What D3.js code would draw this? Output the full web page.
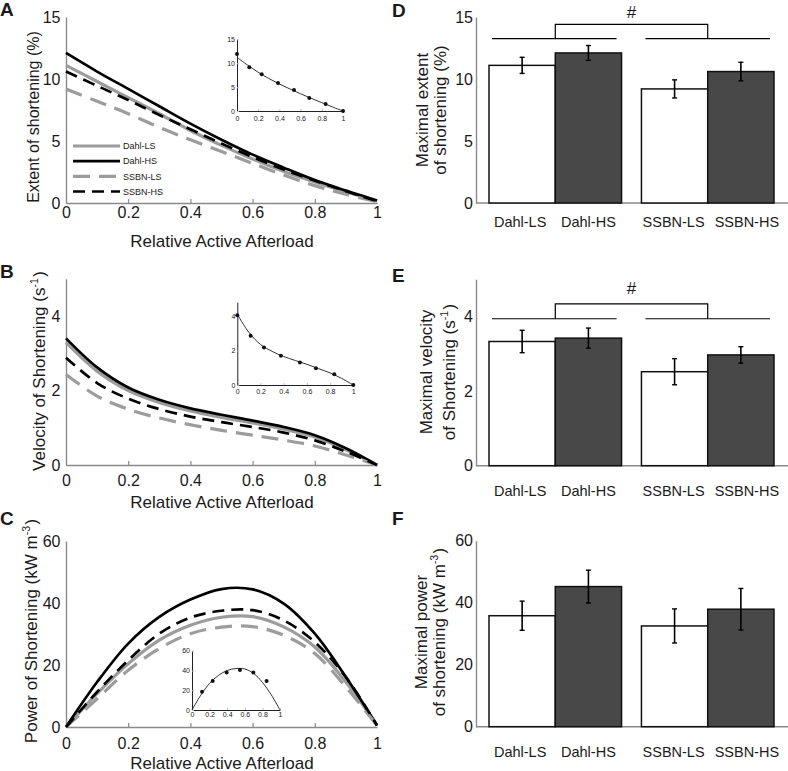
<!DOCTYPE html>
<html><head><meta charset="utf-8">
<script src="https://cdn.jsdelivr.net/npm/d3@7"></script>
<style>body{margin:0;background:#fff} svg{display:block} text{font-family:"Liberation Sans",Arial,sans-serif;fill:#1a1a1a}</style>
</head><body><svg id="c" width="788" height="771"></svg>
<script>
// ---------------- data ----------------
const afterload = [0, 0.1, 0.2, 0.3, 0.4, 0.5, 0.6, 0.7, 0.8, 0.9, 1];
const groups = ["Dahl-LS", "Dahl-HS", "SSBN-LS", "SSBN-HS"];

// Panel A: extent of shortening (%)
const extentDahlLS = [11.1, 9.8, 8.5, 7.2, 5.85, 4.65, 3.55, 2.55, 1.7, 0.9, 0.15];
const extentDahlHS = [12.1, 10.6, 9.2, 7.8, 6.4, 5.1, 3.9, 2.85, 1.85, 1.0, 0.2];
const extentSSBNLS = [9.2, 8.2, 7.2, 6.1, 5.1, 4.15, 3.2, 2.25, 1.4, 0.7, 0.1];
const extentSSBNHS = [10.6, 9.45, 8.3, 7.1, 5.95, 4.8, 3.7, 2.7, 1.8, 0.95, 0.15];

// Panel B: velocity of shortening (s^-1)
const velocityDahlLS = [3.29, 2.52, 2.0, 1.68, 1.45, 1.28, 1.13, 0.96, 0.75, 0.41, 0.0];
const velocityDahlHS = [3.4, 2.62, 2.08, 1.75, 1.52, 1.35, 1.19, 1.02, 0.8, 0.45, 0.0];
const velocitySSBNLS = [2.43, 1.85, 1.5, 1.26, 1.08, 0.93, 0.8, 0.67, 0.51, 0.27, 0.0];
const velocitySSBNHS = [2.88, 2.2, 1.78, 1.5, 1.3, 1.15, 1.02, 0.87, 0.66, 0.36, 0.0];

// Panel C: power of shortening (kW m^-3)
const powerDahlLS = [0, 10.8, 20.4, 28.0, 32.8, 35.4, 35.6, 32.3, 25.8, 14.5, 0.5];
const powerDahlHS = [0, 14.5, 26.9, 35.5, 41.1, 44.5, 44.4, 39.8, 30.1, 16.1, 0.5];
const powerSSBNLS = [0, 9.1, 18.3, 25.3, 30.1, 32.2, 32.4, 29.6, 23.7, 12.9, 0.5];
const powerSSBNHS = [0, 11.3, 21.5, 30.1, 35.3, 37.5, 37.7, 34.4, 27.4, 16.1, 0.5];

// Insets (single example fits)
const insetExtentX = [0, 0.116, 0.233, 0.387, 0.538, 0.682, 0.836, 1];
const insetExtentY = [11.9, 9.14, 7.68, 5.86, 4.4, 2.72, 1.47, 0.0];
const insetExtentFit = [11.2, 9.6, 8.1, 6.8, 5.65, 4.6, 3.6, 2.65, 1.75, 0.85, 0];
const insetVelocityX = [0, 0.115, 0.23, 0.376, 0.54, 0.678, 0.836, 1];
const insetVelocityY = [4.05, 2.86, 2.18, 1.70, 1.31, 0.97, 0.62, 0];
const insetVelocityFit = [4.1, 3.05, 2.35, 1.95, 1.65, 1.42, 1.2, 0.95, 0.7, 0.38, 0];
const insetPowerX = [0.114, 0.235, 0.394, 0.545, 0.697, 0.848];
const insetPowerY = [18.5, 29.3, 38.0, 40.4, 38.0, 29.3];
const insetPowerFit = [0, 15, 27, 35, 40, 42, 41.5, 37, 28, 15.5, 0];

// Panels D-F: group maxima (mean, error)
const maxExtent = [11.1, 12.1, 9.2, 10.6];
const maxExtentErr = [0.65, 0.6, 0.73, 0.75];
const maxVelocity = [3.33, 3.42, 2.52, 2.97];
const maxVelocityErr = [0.3, 0.27, 0.35, 0.22];
const maxPower = [35.8, 45.2, 32.5, 37.9];
const maxPowerErr = [4.7, 5.3, 5.5, 6.7];
const sigExtent = [13.25, 14.4];
const sigVelocity = [3.94, 4.34];

// tick values
const xTicks = [0, 0.2, 0.4, 0.6, 0.8, 1];
const extentTicks = [0, 5, 10, 15];
const velocityTicks = [0, 2, 4];
const powerTicks = [0, 20, 40, 60];

// ---------------- styles ----------------
const seriesStyle = [
  {c: "#9c9c9c", w: 3.2, dash: null},
  {c: "#000", w: 2.7, dash: null},
  {c: "#9c9c9c", w: 3.2, dash: "17,9"},
  {c: "#000", w: 2.7, dash: "12,7"}
];
const axisGray = "#8a8a8a";
const barLabelDx = [-2, 0, -1, 6];
const svg = d3.select("#c");
const fmt = v => String(+v.toFixed(2));

function styleAxis(sel, color, fs) {
  sel.select(".domain").attr("stroke", color).attr("stroke-width", 1.4);
  sel.selectAll(".tick line").attr("stroke", color).attr("stroke-width", 1.2);
  sel.selectAll(".tick text").attr("font-size", fs).attr("fill", "#1a1a1a")
     .attr("font-family", '"Liberation Sans",Arial,sans-serif');
}

function rotLabel(x, cy, parts, fs) {
  const t = svg.append("text").attr("transform", `translate(${x},${cy}) rotate(-90)`)
    .attr("text-anchor", "middle").attr("font-size", fs);
  parts.forEach(p => {
    if (p.sup) {
      t.append("tspan").attr("font-size", fs * 0.62).attr("dy", -fs * 0.42).text(p.sup);
      t.append("tspan").attr("dy", fs * 0.42).text("\u200A");
    } else t.append("tspan").text(p.t);
  });
}

function linePanel(cfg) {
  const x = d3.scaleLinear([0, 1], [66, 377]);
  const y = d3.scaleLinear([0, cfg.yMax], [cfg.y0, cfg.yTop]);
  const gx = svg.append("g").attr("transform", `translate(0,${cfg.y0})`)
    .call(d3.axisBottom(x).tickValues(xTicks).tickFormat(fmt).tickSizeInner(-4).tickSizeOuter(0).tickPadding(cfg.tickPad));
  styleAxis(gx, axisGray, 16);
  gx.selectAll(".tick").filter(d => d === 0 || d === 1).select("line").remove();
  const gy = svg.append("g").attr("transform", "translate(66,0)")
    .call(d3.axisLeft(y).tickValues(cfg.yTicks).tickFormat(fmt).tickSize(0).tickPadding(5.5));
  styleAxis(gy, axisGray, 16);
  svg.append("text").attr("x", 222).attr("y", cfg.xLabelY).attr("text-anchor", "middle")
    .attr("font-size", 17).text("Relative Active Afterload");
  rotLabel(cfg.yLabelX, cfg.yLabelCY, cfg.yLabel, cfg.yLabelFs);
  svg.append("text").attr("x", 0).attr("y", cfg.letterY).attr("font-size", 19)
    .attr("font-weight", "bold").text(cfg.letter);
  const line = d3.line().x((d, j) => x(afterload[j])).y(d => y(d)).curve(d3.curveCatmullRom.alpha(0.5));
  cfg.series.forEach((vals, i) => {
    const s = seriesStyle[i];
    svg.append("path").datum(vals).attr("d", line).attr("fill", "none")
      .attr("stroke", s.c).attr("stroke-width", s.w).attr("stroke-dasharray", s.dash);
  });
  // inset
  const ins = cfg.inset;
  const ix = d3.scaleLinear([0, 1], ins.xr);
  const iy = d3.scaleLinear([0, ins.yMax], [ins.y0, ins.yTop]);
  const igx = svg.append("g").attr("transform", `translate(0,${ins.y0})`)
    .call(d3.axisBottom(ix).tickValues(xTicks).tickFormat(fmt).tickSizeInner(-2).tickSizeOuter(0).tickPadding(ins.pad));
  const igy = svg.append("g").attr("transform", `translate(${ins.xr[0]},0)`)
    .call(d3.axisLeft(iy).tickValues(ins.yTicks).tickFormat(fmt).tickSizeInner(-2).tickSizeOuter(0).tickPadding(2));
  [igx, igy].forEach(g => {
    g.select(".domain").attr("stroke", "#222").attr("stroke-width", 1);
    g.selectAll(".tick line").attr("stroke", "#bbb");
    g.selectAll(".tick text").attr("font-size", 7).attr("fill", "#555")
      .attr("font-family", '"DejaVu Sans",sans-serif');
  });
  svg.append("path").datum(ins.fit)
    .attr("d", d3.line().x((d, j) => ix(afterload[j])).y(d => iy(d)).curve(d3.curveCatmullRom.alpha(0.5)))
    .attr("fill", "none").attr("stroke", "#333").attr("stroke-width", 1);
  svg.append("g").selectAll("circle").data(ins.px).join("circle")
    .attr("cx", d => ix(d)).attr("cy", (d, i) => iy(ins.py[i])).attr("r", 2).attr("fill", "#111");
}

linePanel({
  y0: 203, yTop: 17, yMax: 15, yTicks: extentTicks, tickPad: 3.6, xLabelY: 246.5,
  yLabel: [{t: "Extent of shortening (%)"}], yLabelX: 38.5, yLabelCY: 117, yLabelFs: 16,
  letter: "A", letterY: 16,
  series: [extentDahlLS, extentDahlHS, extentSSBNLS, extentSSBNHS],
  inset: {xr: [237, 343], y0: 111, yTop: 39.3, yMax: 15, yTicks: extentTicks, pad: 4.7,
          px: insetExtentX, py: insetExtentY, fit: insetExtentFit}
});
linePanel({
  y0: 465, yTop: 278.75, yMax: 5, yTicks: velocityTicks, tickPad: 10, xLabelY: 507.5,
  yLabel: [{t: "Velocity of Shortening (s"}, {sup: "-1"}, {t: ")"}], yLabelX: 45, yLabelCY: 371, yLabelFs: 17,
  letter: "B", letterY: 278,
  series: [velocityDahlLS, velocityDahlHS, velocitySSBNLS, velocitySSBNHS],
  inset: {xr: [237.3, 353.3], y0: 385, yTop: 302.2, yMax: 4.8, yTicks: velocityTicks, pad: 4,
          px: insetVelocityX, py: insetVelocityY, fit: insetVelocityFit}
});
linePanel({
  y0: 727, yTop: 541, yMax: 60, yTicks: powerTicks, tickPad: 10.6, xLabelY: 768.5,
  yLabel: [{t: "Power of Shortening (kW m"}, {sup: "-3"}, {t: ")"}], yLabelX: 37.3, yLabelCY: 631, yLabelFs: 17,
  letter: "C", letterY: 525,
  series: [powerDahlLS, powerDahlHS, powerSSBNLS, powerSSBNHS],
  inset: {xr: [192, 280], y0: 710, yTop: 650.7, yMax: 60, yTicks: powerTicks, pad: 2.5,
          px: insetPowerX, py: insetPowerY, fit: insetPowerFit}
});

// legend in A
const legendY = d3.scalePoint().domain(groups).range([146, 191.5]);
groups.forEach((g, i) => {
  const s = seriesStyle[i];
  svg.append("line").attr("x1", 73).attr("x2", 120).attr("y1", legendY(g)).attr("y2", legendY(g))
    .attr("stroke", s.c).attr("stroke-width", s.w).attr("stroke-dasharray", s.dash);
  svg.append("text").attr("x", 123).attr("y", legendY(g) + 3.3).attr("font-size", 9).text(g);
});

// ---------------- bar panels ----------------
const slot = i => i + (i >= 2 ? 0.3 : 0);
const barX = d3.scaleLinear([0, 4.3], [489, 774]);
const bw = barX(1) - barX(0);

function barPanel(cfg) {
  const y = d3.scaleLinear([0, cfg.yMax], [cfg.y0, cfg.yTop]);
  svg.append("line").attr("x1", 476).attr("x2", 788).attr("y1", cfg.y0).attr("y2", cfg.y0)
    .attr("stroke", axisGray).attr("stroke-width", 1.4);
  const gy = svg.append("g").attr("transform", "translate(476,0)")
    .call(d3.axisLeft(y).tickValues(cfg.yTicks).tickFormat(fmt).tickSize(0).tickPadding(3));
  styleAxis(gy, axisGray, 16);
  cfg.values.forEach((v, i) => {
    svg.append("rect").attr("x", barX(slot(i))).attr("y", y(v)).attr("width", bw)
      .attr("height", y(0) - y(v)).attr("fill", i % 2 ? "#484848" : "#fff")
      .attr("stroke", "#111").attr("stroke-width", 1.5);
  });
  cfg.values.forEach((v, i) => {
    const cx = barX(slot(i) + 0.5), e = cfg.errs[i];
    svg.append("line").attr("x1", cx).attr("x2", cx).attr("y1", y(v - e)).attr("y2", y(v + e))
      .attr("stroke", "#000").attr("stroke-width", 1.6);
    [v - e, v + e].forEach(t => svg.append("line").attr("x1", cx - 2.5).attr("x2", cx + 2.5)
      .attr("y1", y(t)).attr("y2", y(t)).attr("stroke", "#000").attr("stroke-width", 1.4));
    svg.append("text").attr("x", cx + barLabelDx[i]).attr("y", cfg.xLabelY).attr("text-anchor", "middle")
      .attr("font-size", 14.5).text(groups[i]);
  });
  if (cfg.sig) {
    const [lv, tv] = cfg.sig;
    [[barX(slot(0)) + 3, barX(slot(1) + 1) - 5], [barX(slot(2)) + 4, barX(slot(3) + 1) - 4]].forEach(([a, b]) =>
      svg.append("line").attr("x1", a).attr("x2", b).attr("y1", y(lv)).attr("y2", y(lv))
        .attr("stroke", "#000").attr("stroke-width", 1.2));
    const c1 = barX(slot(1)), c2 = barX(slot(3));
    svg.append("path").attr("d", `M${c1},${y(lv)}V${y(tv)}H${c2}V${y(lv)}`)
      .attr("fill", "none").attr("stroke", "#000").attr("stroke-width", 1.2);
    svg.append("text").attr("x", (c1 + c2) / 2).attr("y", cfg.hashY).attr("text-anchor", "middle")
      .attr("font-size", 17).text("#");
  }
  cfg.labelLines.forEach((parts, k) => rotLabel(cfg.labelX[k], cfg.labelCY, parts, 17));
  svg.append("text").attr("x", 392).attr("y", cfg.letterY).attr("font-size", 19)
    .attr("font-weight", "bold").text(cfg.letter);
}

barPanel({
  y0: 203, yTop: 17, yMax: 15, yTicks: extentTicks, values: maxExtent, errs: maxExtentErr,
  sig: sigExtent, hashY: 18, xLabelY: 226.5, letter: "D", letterY: 17,
  labelLines: [[{t: "Maximal extent"}], [{t: "of shortening (%)"}]], labelX: [428.3, 446], labelCY: 110
});
barPanel({
  y0: 465.7, yTop: 279.2, yMax: 5, yTicks: velocityTicks, values: maxVelocity, errs: maxVelocityErr,
  sig: sigVelocity, hashY: 294, xLabelY: 496, letter: "E", letterY: 282,
  labelLines: [[{t: "Maximal velocity"}], [{t: "of Shortening (s"}, {sup: "-1"}, {t: ")"}]], labelX: [431.5, 455], labelCY: 372
});
barPanel({
  y0: 726.7, yTop: 540.7, yMax: 60, yTicks: powerTicks, values: maxPower, errs: maxPowerErr,
  sig: null, xLabelY: 756.5, letter: "F", letterY: 525,
  labelLines: [[{t: "Maximal power"}], [{t: "of shortening (kW m"}, {sup: "-3"}, {t: ")"}]], labelX: [426.7, 445], labelCY: 632
});
</script></body></html>
